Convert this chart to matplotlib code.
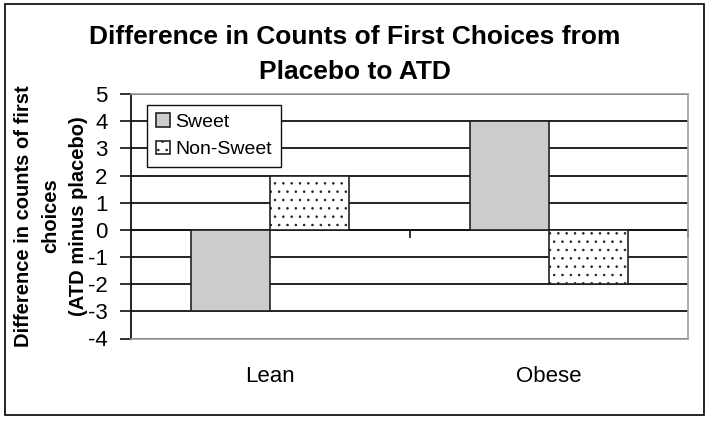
"""
Difference in counts of first choices, placebo vs ATD (grouped bars)
"""
import numpy as np
import matplotlib.pyplot as plt
from matplotlib.patches import Rectangle

groups = ['Lean', 'Obese']
sweet = [-3, 4]
non_sweet = [2, -2]
series_names = ['Sweet', 'Non-Sweet']
yticks = list(range(-4, 6))

plt.rcParams['font.family'] = ['Liberation Sans', 'DejaVu Sans']
plt.rcParams['hatch.linewidth'] = 0.6
plt.rcParams['axes.unicode_minus'] = False

fig = plt.figure(figsize=(7.09, 4.21), dpi=100)
ax = fig.add_axes([131 / 709, 1 - 338.5 / 421, 557 / 709, 244.3 / 421])

x = np.arange(len(groups))
w = 0.284
ax.bar(x - w / 2, sweet, w, color='#cccccc', edgecolor='#222222', lw=1.2,
       label=series_names[0], zorder=3)
ax.bar(x + w / 2, non_sweet, w, color='white', edgecolor='#222222', lw=1.2,
       hatch='..', label=series_names[1], zorder=3)

ax.set_xlim(-0.5, len(groups) - 0.5)
ax.set_ylim(-4, 5)
ax.set_yticks(yticks)
ax.grid(axis='y', color='#111111', lw=1.3, zorder=0)
ax.set_axisbelow(True)

for s in ['top', 'right', 'bottom']:
    ax.spines[s].set_color('#a0a0a0')
    ax.spines[s].set_linewidth(1.2)
ax.spines['left'].set_color('#111111')
ax.spines['left'].set_linewidth(1.3)

ax.set_xticks(x)
ax.set_xticklabels(groups)
ax.tick_params(axis='x', length=0, pad=20, labelsize=16)
ax.tick_params(axis='y', direction='out', length=8, width=1.2, pad=9,
               labelsize=16, color='#111111')

# x axis line sitting at zero, with ticks between the groups
zero_ax = ax.secondary_xaxis(4 / 9)
zero_ax.set_xticks(x + 0.5)
zero_ax.set_xticklabels([])
zero_ax.tick_params(direction='out', length=6, width=1.2, color='#111111')
zero_ax.spines['bottom'].set_color('#111111')
zero_ax.spines['bottom'].set_linewidth(1.3)

leg = ax.legend(loc='upper left', bbox_to_anchor=(0.029, 0.957), borderaxespad=0,
                fancybox=False, edgecolor='#111111', framealpha=1, fontsize=14,
                handlelength=0.7, handleheight=0.7, handletextpad=0.3,
                labelspacing=0.5, borderpad=0.45)
leg.get_frame().set_linewidth(1.0)

fig.text(0.5, 1 - 54.5 / 421,
         'Difference in Counts of First Choices from\nPlacebo to ATD',
         ha='center', va='center', fontsize=19, fontweight='bold',
         linespacing=1.55)
fig.text(51 / 709, 1 - 216 / 421,
         'Difference in counts of first\nchoices\n(ATD minus placebo)',
         ha='center', va='center', rotation=90, multialignment='center',
         fontsize=14.5, fontweight='bold', linespacing=1.55)

fig.patches.append(Rectangle((5 / 709, 6 / 421), 699 / 709, 411 / 421,
                             transform=fig.transFigure, fill=False,
                             edgecolor='black', lw=1.2))

fig.savefig('out.png', dpi=100)
